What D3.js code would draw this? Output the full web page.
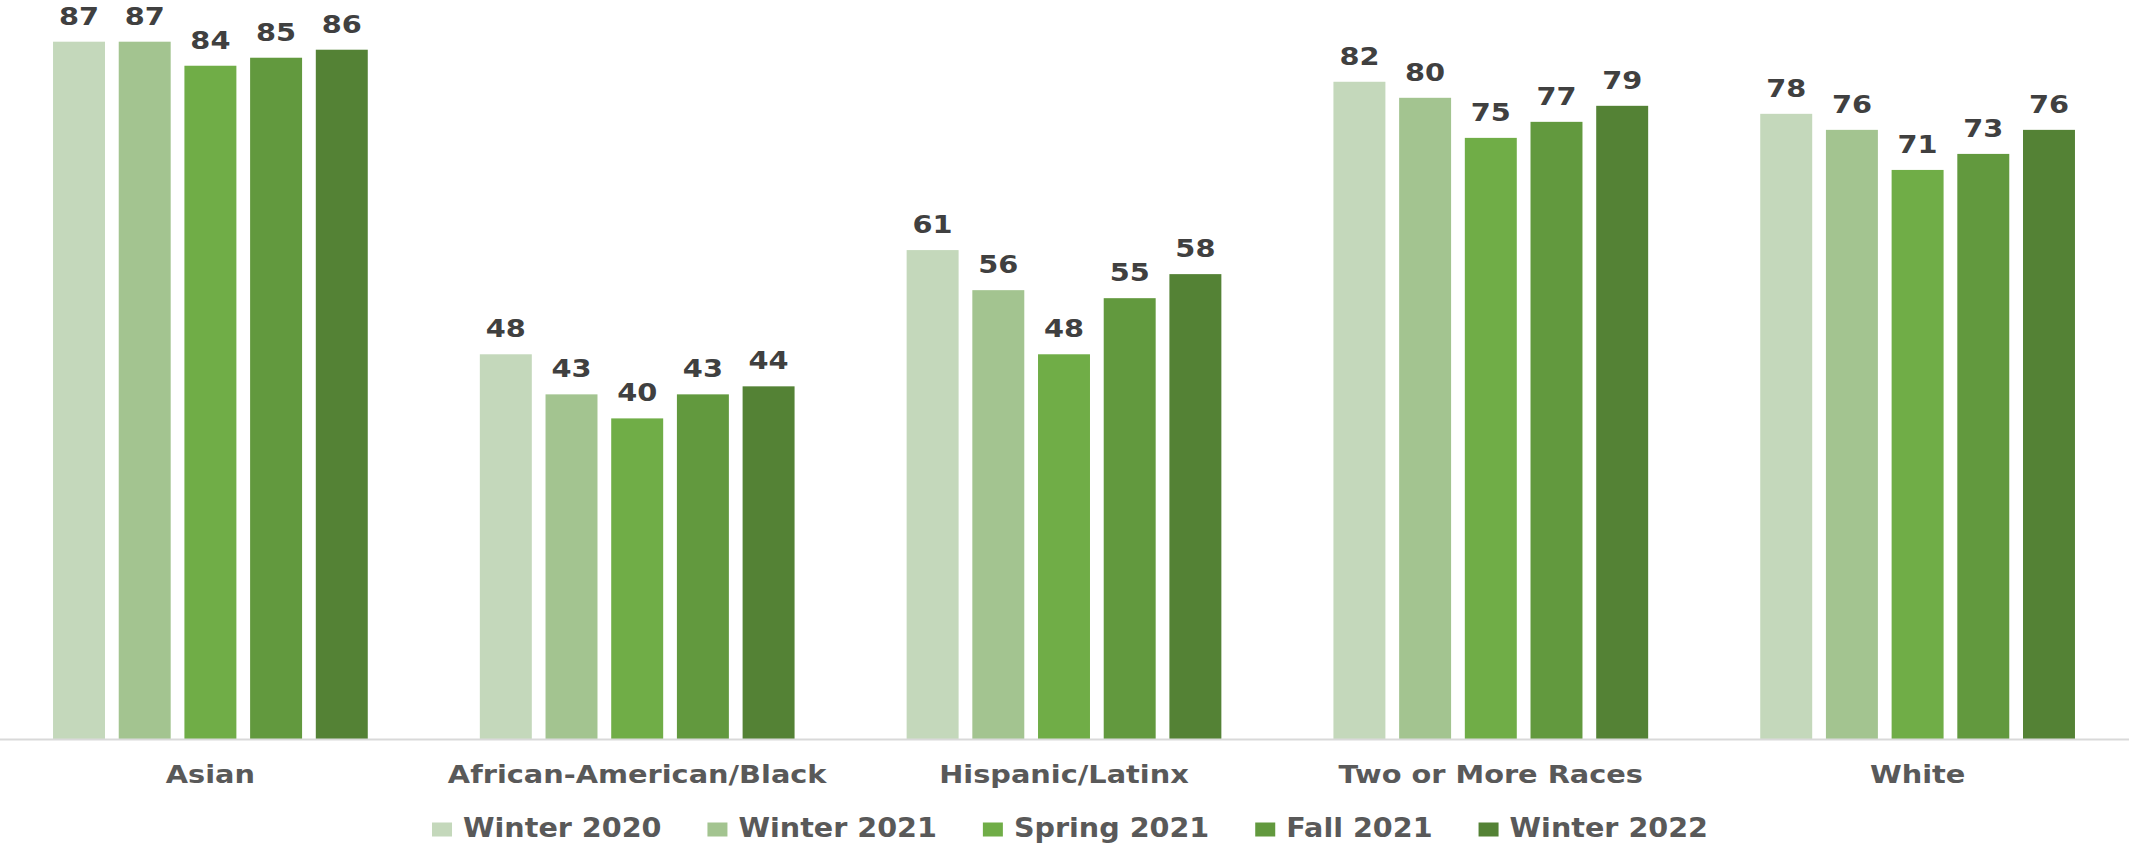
<!DOCTYPE html>
<html>
<head>
<meta charset="utf-8">
<script src="https://cdn.jsdelivr.net/npm/d3@7"></script>
<style>
  html, body { margin: 0; padding: 0; background: #ffffff; }
  svg { display: block; }
  text { font-family: "DejaVu Sans", Verdana, sans-serif; font-weight: bold; }
</style>
</head>
<body>
<svg id="chart" width="2129" height="846"></svg>
<script>
const categories = ["Asian", "African-American/Black", "Hispanic/Latinx", "Two or More Races", "White"];
const seriesNames = ["Winter 2020", "Winter 2021", "Spring 2021", "Fall 2021", "Winter 2022"];
const winter2020 = [87, 48, 61, 82, 78];
const winter2021 = [87, 43, 56, 80, 76];
const spring2021 = [84, 40, 48, 75, 71];
const fall2021   = [85, 43, 55, 77, 73];
const winter2022 = [86, 44, 58, 79, 76];
const seriesColors = ["#c4d8bb", "#a3c490", "#70ad47", "#62993e", "#548235"];

const seriesValues = [winter2020, winter2021, spring2021, fall2021, winter2022];

const W = 2129, H = 846;
const baseY = 739;
const sx = 1.2;          // horizontal text stretch
const fontSize = 24;
const legSx = 1.1;
const legFont = 26;

const svg = d3.select("#chart");

const x0 = d3.scaleBand().domain(categories).range([-3, 2131]).padding(0);
const x1 = d3.scaleBand().domain(seriesNames).range([0, x0.bandwidth()])
  .paddingInner(0.209).paddingOuter(0.853);
const y = d3.scaleLinear().domain([0, 90]).range([baseY, baseY - 90 * 8.015]);
const color = d3.scaleOrdinal().domain(seriesNames).range(seriesColors);

const rows = [];
categories.forEach((c, ci) => {
  seriesNames.forEach((s, si) => {
    rows.push({ cat: c, series: s, value: seriesValues[si][ci] });
  });
});

// bars
svg.append("g").selectAll("rect").data(rows).join("rect")
  .attr("x", d => x0(d.cat) + x1(d.series))
  .attr("y", d => y(d.value))
  .attr("width", x1.bandwidth())
  .attr("height", d => y(0) - y(d.value))
  .attr("fill", d => color(d.series));

// value labels
svg.append("g").selectAll("text").data(rows).join("text")
  .attr("transform", d => `translate(${x0(d.cat) + x1(d.series) + x1.bandwidth() / 2},${y(d.value) - 17}) scale(${sx},1)`)
  .attr("text-anchor", "middle")
  .attr("font-size", fontSize)
  .attr("fill", "#404040")
  .text(d => d.value);

// x axis
const xAxis = d3.axisBottom(x0).tickSize(0).tickPadding(0);
const gx = svg.append("g").attr("transform", `translate(0,${baseY})`).call(xAxis);
gx.select(".domain").remove();
gx.append("line").attr("x1", 0).attr("x2", W).attr("y1", 0.5).attr("y2", 0.5)
  .attr("stroke", "#d9d9d9").attr("stroke-width", 2);
gx.selectAll(".tick text")
  .attr("y", 0).attr("dy", 0)
  .attr("transform", `translate(0,44) scale(${sx},1)`)
  .attr("font-size", fontSize)
  .attr("font-family", "DejaVu Sans")
  .attr("font-weight", "bold")
  .attr("fill", "#595959");

// legend
const legend = svg.append("g");
const items = legend.selectAll("g").data(seriesNames).join("g");
items.append("rect")
  .attr("width", 20).attr("height", 14)
  .attr("y", -14.5)
  .attr("fill", d => color(d));
items.append("text")
  .attr("transform", `translate(31,0) scale(${legSx},1)`)
  .attr("font-size", legFont)
  .attr("fill", "#595959")
  .text(d => d);
let cx = 0;
const gap = 46;
items.each(function () {
  const t = d3.select(this).select("text").node().getComputedTextLength() * legSx;
  d3.select(this).attr("transform", `translate(${cx},0)`);
  cx += 31 + t + gap;
});
const totalW = cx - gap;
legend.attr("transform", `translate(${1070 - totalW / 2},837)`);
</script>
</body>
</html>
